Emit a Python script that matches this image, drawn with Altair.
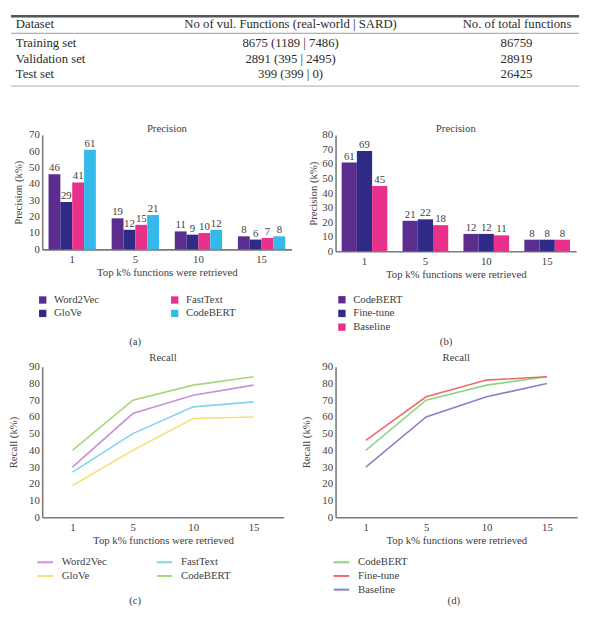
import altair as alt
import pandas as pd

FONT = "Liberation Serif"
TXT = "#404040"
AXIS = "#7a7a7a"

# ---------------- table data ----------------
table_header = ["Dataset", "No of vul. Functions (real-world | SARD)", "No. of total functions"]
table_datasets = ["Training set", "Validation set", "Test set"]
table_vul = ["8675 (1189 | 7486)", "2891 (395 | 2495)", "399 (399 | 0)"]
table_total = ["86759", "28919", "26425"]

# ---------------- chart data ----------------
ks = ["1", "5", "10", "15"]

# (a) precision, embeddings
prec_a = {
    "Word2Vec": [46, 19, 11, 8],
    "GloVe": [29, 12, 9, 6],
    "FastText": [41, 15, 10, 7],
    "CodeBERT": [61, 21, 12, 8],
}
# (b) precision, CodeBERT variants
prec_b = {
    "CodeBERT": [61, 21, 12, 8],
    "Fine-tune": [69, 22, 12, 8],
    "Baseline": [45, 18, 11, 8],
}
# (c) recall, embeddings
rec_c = {
    "Word2Vec": [30, 62, 73, 79],
    "GloVe": [19, 40, 59, 60],
    "FastText": [27, 50, 66, 69],
    "CodeBERT": [40, 70, 79, 84],
}
# (d) recall, CodeBERT variants
rec_d = {
    "CodeBERT": [40, 70, 79, 84],
    "Fine-tune": [46, 72, 82, 84],
    "Baseline": [30, 60, 72, 80],
}

# colours
bar_colors = {"Word2Vec": "#5b2d8e", "GloVe": "#2e2a86", "FastText": "#e9318b", "CodeBERT": "#35b9e9"}
bar_colors_b = {"CodeBERT": "#5b2d8e", "Fine-tune": "#2e2a86", "Baseline": "#e9318b"}
line_colors_c = {"Word2Vec": "#c98fd9", "GloVe": "#f3e07a", "FastText": "#80d5f2", "CodeBERT": "#a9d67c"}
line_colors_d = {"CodeBERT": "#8fd684", "Fine-tune": "#f06a6a", "Baseline": "#8a80c8"}


def long_df(series):
    rows = []
    for model, vals in series.items():
        for k, v in zip(ks, vals):
            rows.append({"k": k, "model": model, "value": v})
    return pd.DataFrame(rows)


def label_layer(text, x, y, size=11, align="center", color=TXT):
    return alt.Chart(pd.DataFrame({"t": [text]})).mark_text(
        font=FONT, fontSize=size, color=color, align=align, baseline="middle"
    ).encode(text="t:N", x=alt.value(x), y=alt.value(y))


def rule_layer(x1, x2, y, color, width):
    return alt.Chart(pd.DataFrame({"r": [0]})).mark_rule(color=color, strokeWidth=width).encode(
        x=alt.value(x1), x2=alt.value(x2), y=alt.value(y))


# ---------------- table (drawn above panel (a), relative to its plot origin) ----------------
TX0, TX1 = -32, 549            # left / right edge of the table
COLX = [-27, 254, 430, 485]    # col0 left, col1 centre, col2 header left, col2 values centre
HEAD_Y = -113.5
ROW_Y = [-94, -78, -62]
TFS = 13
TCOL = "#2b2b2b"
table_layers = [
    rule_layer(TX0, TX1, -121.5, "#555555", 2.5),
    rule_layer(TX0, TX1, -104, "#9a9a9a", 1),
    rule_layer(TX0, TX1, -50, "#a8a8a8", 1),
    label_layer(table_header[0], COLX[0], HEAD_Y, TFS, "left", TCOL),
    label_layer(table_header[1], COLX[1], HEAD_Y, TFS, "center", TCOL),
    label_layer(table_header[2], COLX[2], HEAD_Y, TFS, "left", TCOL),
]
for i in range(len(table_datasets)):
    table_layers += [
        label_layer(table_datasets[i], COLX[0], ROW_Y[i], TFS, "left", TCOL),
        label_layer(table_vul[i], COLX[1], ROW_Y[i], TFS, "center", TCOL),
        label_layer(table_total[i], COLX[3], ROW_Y[i], TFS, "center", TCOL),
    ]


# ---------------- bar panels ----------------
def bar_panel(series, colors, ymax, w, h, label, lx, ly, ncols, colpad, rowpad,
              labx, laby, tpad, title_y, extra=()):
    df = long_df(series)
    order = list(series.keys())
    enc = dict(
        x=alt.X("k:N", sort=ks, scale=alt.Scale(paddingInner=0.25, paddingOuter=0.1),
                axis=alt.Axis(title="Top k% functions were retrieved")),
        xOffset=alt.XOffset("model:N", scale=alt.Scale(domain=order)),
        y=alt.Y("value:Q", scale=alt.Scale(domain=[0, ymax], nice=False),
                axis=alt.Axis(values=list(range(0, ymax + 1, 10)), title="Precision (k%)",
                              minExtent=15, maxExtent=15, titlePadding=tpad)),
    )
    bars = alt.Chart(df).mark_bar().encode(
        color=alt.Color("model:N",
                        scale=alt.Scale(domain=order, range=[colors[m] for m in order]),
                        legend=alt.Legend(title=None, orient="none", legendX=lx, legendY=ly,
                                          columns=ncols, columnPadding=colpad, rowPadding=rowpad,
                                          symbolType="square", symbolSize=56, labelOffset=6)),
        **enc)
    text = alt.Chart(df).mark_text(baseline="bottom", dy=-1, font=FONT, fontSize=11, color=TXT).encode(
        text="value:Q", **enc)
    title = label_layer("Precision", w / 2, title_y)
    lab = label_layer(label, labx, laby)
    return alt.layer(bars, text, title, lab, *extra).properties(width=w, height=h)


def line_panel(series, colors, w, h, label, lx, ly, ncols, colpad, rowpad,
               labx, laby, tpad, title_y):
    df = long_df(series)
    order = list(series.keys())
    line = alt.Chart(df).mark_line(strokeWidth=1.6).encode(
        x=alt.X("k:N", sort=ks, scale=alt.Scale(type="point", padding=0.5),
                axis=alt.Axis(title="Top k% functions were retrieved")),
        y=alt.Y("value:Q", scale=alt.Scale(domain=[0, 90], nice=False),
                axis=alt.Axis(values=list(range(0, 91, 10)), title="Recall (k%)",
                              minExtent=15, maxExtent=15, titlePadding=tpad)),
        color=alt.Color("model:N",
                        scale=alt.Scale(domain=order, range=[colors[m] for m in order]),
                        legend=alt.Legend(title=None, orient="none", legendX=lx, legendY=ly,
                                          columns=ncols, columnPadding=colpad, rowPadding=rowpad,
                                          symbolType="stroke", symbolSize=256, symbolStrokeWidth=2,
                                          labelOffset=8)),
    )
    title = label_layer("Recall", w / 2, title_y)
    lab = label_layer(label, labx, laby)
    return alt.layer(line, title, lab).properties(width=w, height=h)


pa = bar_panel(prec_a, bar_colors, 70, 255, 117,
               "(a)", -5, 163, 2, 71, 2, 95, 212, 4, -6, extra=table_layers)
pb = bar_panel(prec_b, bar_colors_b, 80, 246, 119,
               "(b)", 1, 163, 1, 0, 2, 113, 212, 2, -6)
pc = line_panel(rec_c, line_colors_c, 247, 154,
                "(c)", -6, 191, 2, 46, -2, 95, 240, 9, -9)
pd_ = line_panel(rec_d, line_colors_d, 247, 154,
                 "(d)", -3, 191, 1, 0, -2, 121, 240, 10, -9)

chart = (
    alt.concat(pa, pb, pc, pd_, columns=2, bounds="flush", align="none",
               spacing={"row": 118, "column": 45})
    .resolve_scale(color="independent", xOffset="independent")
    .properties(padding=0)
    .configure_view(stroke=None)
    .configure_axis(labelFont=FONT, titleFont=FONT, labelFontSize=11, titleFontSize=11,
                    labelColor=TXT, titleColor=TXT, titleFontWeight="normal",
                    domainColor=AXIS, domainWidth=1.6, ticks=False, grid=False)
    .configure_axisX(labelAngle=0, labelPadding=4, titlePadding=3)
    .configure_axisY(labelPadding=3)
    .configure_legend(labelFont=FONT, labelFontSize=11, labelColor=TXT)
)

chart.save("out.html", embed_options={"renderer": "svg", "actions": False})
